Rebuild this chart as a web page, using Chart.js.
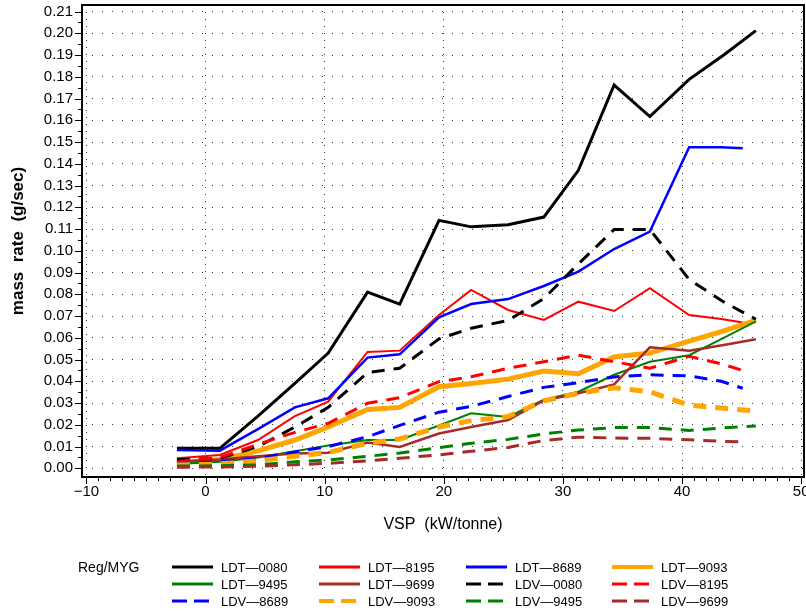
<!DOCTYPE html>
<html>
<head>
<meta charset="utf-8">
<script src="https://cdn.jsdelivr.net/npm/chart.js@4.4.1/dist/chart.umd.min.js"></script>
<style>
  html, body { margin: 0; padding: 0; background: #fff; }
</style>
</head>
<body>
<canvas id="massChart" width="806" height="613"></canvas>
<script>
// VSP bin centres (kW/tonne); some series stop at a lower last bin
const vspLong  = [-2.4, 1.2, 4.4, 7.5, 10.3, 13.6, 16.3, 19.6, 22.3, 25.4, 28.4, 31.3, 34.3, 37.3, 40.6, 43.5, 46.2];
const vspShort = [-2.4, 1.2, 4.4, 7.5, 10.3, 13.6, 16.3, 19.6, 22.3, 25.4, 28.4, 31.3, 34.3, 37.3, 40.6, 43.3, 45.1];

// mass rate (g/sec)
const ldt0080 = [0.0092, 0.0092, 0.024, 0.039, 0.053, 0.081, 0.0755, 0.114, 0.111, 0.112, 0.1155, 0.137, 0.1762, 0.1617, 0.1788, 0.190, 0.2012];
const ldt8195 = [0.0046, 0.0061, 0.013, 0.024, 0.0306, 0.0535, 0.0541, 0.0705, 0.082, 0.0728, 0.0682, 0.0766, 0.0723, 0.0828, 0.0705, 0.0686, 0.067];
const ldt8689 = [0.0084, 0.0081, 0.018, 0.028, 0.0322, 0.0509, 0.0524, 0.0694, 0.0755, 0.0778, 0.0838, 0.0904, 0.1008, 0.1088, 0.1476, 0.1476, 0.1471];
const ldt9093 = [0.0025, 0.004, 0.008, 0.013, 0.019, 0.027, 0.028, 0.0375, 0.039, 0.041, 0.0447, 0.0435, 0.0512, 0.053, 0.0585, 0.0632, 0.068];
const ldt9495 = [0.002, 0.003, 0.005, 0.0078, 0.0105, 0.013, 0.013, 0.0197, 0.0253, 0.0236, 0.0315, 0.0352, 0.043, 0.049, 0.052, 0.060, 0.0675];
const ldt9699 = [0.003, 0.0041, 0.0055, 0.0068, 0.0072, 0.0118, 0.0098, 0.016, 0.019, 0.0222, 0.0312, 0.0345, 0.0386, 0.0556, 0.0541, 0.0567, 0.0593];
const ldv0080 = [0.004, 0.0046, 0.010, 0.019, 0.028, 0.044, 0.046, 0.0595, 0.0644, 0.068, 0.078, 0.094, 0.1098, 0.1098, 0.0868, 0.0765, 0.0685];
const ldv8195 = [0.003, 0.005, 0.011, 0.0165, 0.0207, 0.0299, 0.0325, 0.0398, 0.0421, 0.046, 0.049, 0.052, 0.049, 0.046, 0.0515, 0.048, 0.045];
const ldv8689 = [0.002, 0.003, 0.0045, 0.0075, 0.010, 0.0145, 0.0197, 0.0258, 0.0285, 0.033, 0.0372, 0.0394, 0.042, 0.043, 0.0425, 0.040, 0.0368];
const ldv9093 = [0.0015, 0.002, 0.0035, 0.0055, 0.0073, 0.0115, 0.0135, 0.019, 0.0219, 0.0238, 0.031, 0.0345, 0.037, 0.0352, 0.029, 0.0276, 0.0263];
const ldv9495 = [0.001, 0.0012, 0.0016, 0.003, 0.0038, 0.0055, 0.007, 0.0095, 0.0115, 0.0133, 0.0158, 0.0176, 0.0187, 0.0187, 0.0174, 0.0186, 0.0194];
const ldv9699 = [0.0005, 0.0006, 0.001, 0.0016, 0.0023, 0.0034, 0.0046, 0.0062, 0.0078, 0.0096, 0.0128, 0.0143, 0.0139, 0.0138, 0.0131, 0.0124, 0.0122];

const seriesNames = ['LDT-0080', 'LDT-8195', 'LDT-8689', 'LDT-9093', 'LDT-9495', 'LDT-9699',
                     'LDV-0080', 'LDV-8195', 'LDV-8689', 'LDV-9093', 'LDV-9495', 'LDV-9699'];
const seriesValues = [ldt0080, ldt8195, ldt8689, ldt9093, ldt9495, ldt9699,
                      ldv0080, ldv8195, ldv8689, ldv9093, ldv9495, ldv9699];
const seriesVsp = [vspLong, vspShort, vspShort, vspLong, vspLong, vspLong,
                   vspLong, vspShort, vspShort, vspLong, vspLong, vspShort];

// tick labels
const xMajor = [-10, 0, 10, 20, 30, 40, 50];
const yMajor = [0.00, 0.01, 0.02, 0.03, 0.04, 0.05, 0.06, 0.07, 0.08, 0.09, 0.10,
                0.11, 0.12, 0.13, 0.14, 0.15, 0.16, 0.17, 0.18, 0.19, 0.20, 0.21];

// line styles
const dashed = [13, 9];
const seriesStyle = [
    { color: '#000000', width: 3,   dash: [] },
    { color: '#ff0000', width: 2,   dash: [] },
    { color: '#0000ff', width: 2.5, dash: [] },
    { color: '#ffa500', width: 5,   dash: [] },
    { color: '#008000', width: 2,   dash: [] },
    { color: '#a52a2a', width: 2.5, dash: [] },
    { color: '#000000', width: 3,   dash: dashed },
    { color: '#ff0000', width: 3,   dash: dashed },
    { color: '#0000ff', width: 3,   dash: dashed },
    { color: '#ffa500', width: 5,   dash: dashed },
    { color: '#008000', width: 3,   dash: dashed },
    { color: '#a52a2a', width: 3,   dash: dashed }
];

Chart.defaults.font.family = "'Liberation Sans', Arial, Helvetica, sans-serif";
Chart.defaults.color = '#000';

const datasets = seriesNames.map((name, i) => ({
    label: name,
    data: seriesVsp[i].map((x, j) => ({ x: x, y: seriesValues[i][j] })),
    borderColor: seriesStyle[i].color,
    borderWidth: seriesStyle[i].width,
    borderDash: seriesStyle[i].dash,
    pointRadius: 0,
    tension: 0,
    fill: false,
    order: seriesNames.length - i
}));

// frame, minor/major tick marks and the legend below the axis title
const framePlugin = {
    id: 'frame',
    afterDraw(chart) {
        const { ctx, chartArea: a, scales } = chart;
        const x = scales.x, y = scales.y;
        ctx.save();
        ctx.strokeStyle = '#000';
        ctx.lineWidth = 2;
        ctx.beginPath();
        ctx.moveTo(a.left, a.top);
        ctx.lineTo(a.right, a.top);
        ctx.lineTo(a.right, a.bottom);
        ctx.lineTo(a.left, a.bottom);
        ctx.closePath();
        ctx.stroke();

        ctx.lineWidth = 1;
        ctx.beginPath();
        for (let v = -10; v <= 50; v++) {
            const px = Math.round(x.getPixelForValue(v)) + 0.5;
            const len = v % 10 === 0 ? 7 : 4;
            ctx.moveTo(px, a.bottom);
            ctx.lineTo(px, a.bottom + len);
        }
        for (let k = 0; k <= 42; k++) {
            const py = Math.round(y.getPixelForValue(k * 0.005)) + 0.5;
            const len = k % 2 === 0 ? 7 : 4;
            ctx.moveTo(a.left, py);
            ctx.lineTo(a.left - len, py);
        }
        ctx.stroke();

        // legend
        const cols = [172, 319, 466, 612];
        const rows = [567, 584, 601];
        ctx.font = "14px 'Liberation Sans', Arial, sans-serif";
        ctx.fillStyle = '#000';
        ctx.textBaseline = 'middle';
        ctx.textAlign = 'left';
        ctx.fillText('Reg/MYG', 78, rows[0] + 1);
        ctx.font = "13px 'Liberation Sans', Arial, sans-serif";
        seriesNames.forEach((name, i) => {
            const cx = cols[i % 4];
            const cy = rows[Math.floor(i / 4)];
            const st = seriesStyle[i];
            ctx.strokeStyle = st.color;
            ctx.lineWidth = st.width >= 5 ? 4 : 3;
            ctx.setLineDash(st.dash.length ? [15, 7] : []);
            ctx.beginPath();
            ctx.moveTo(cx, cy);
            ctx.lineTo(cx + (st.dash.length ? 37 : 41), cy);
            ctx.stroke();
            ctx.setLineDash([]);
            ctx.fillText(name.replace('-', '\u2014'), cx + 49, cy + 1);
        });
        ctx.restore();
    }
};

new Chart(document.getElementById('massChart'), {
    type: 'line',
    data: { datasets: datasets },
    options: {
        responsive: false,
        animation: false,
        layout: { padding: { left: 0, top: 5, right: 2, bottom: 76 } },
        plugins: {
            legend: { display: false },
            tooltip: { enabled: false }
        },
        scales: {
            x: {
                type: 'linear',
                min: -10.37,
                max: 50.24,
                afterBuildTicks: (scale) => { scale.ticks = xMajor.map(v => ({ value: v })); },
                afterFit: (scale) => {
                    scale.height = 60;
                    scale.paddingLeft = 0;
                    scale.paddingRight = 0;
                },
                ticks: {
                    padding: 6,
                    font: { size: 15 },
                    callback: (v) => v < 0 ? '\u2212' + Math.abs(v) : String(v)
                },
                grid: { color: '#333', lineWidth: 1, drawTicks: false },
                border: { display: false, dash: [1, 6] },
                title: {
                    display: true,
                    text: 'VSP  (kW/tonne)',
                    font: { size: 16 },
                    padding: { top: 0, bottom: 3 }
                }
            },
            y: {
                type: 'linear',
                min: -0.004,
                max: 0.213,
                afterBuildTicks: (scale) => { scale.ticks = yMajor.map(v => ({ value: v })); },
                afterFit: (scale) => {
                    scale.width = 82;
                    scale.paddingTop = 0;
                    scale.paddingBottom = 0;
                },
                ticks: {
                    padding: 9,
                    font: { size: 15 },
                    callback: (v) => v.toFixed(2)
                },
                grid: { color: '#333', lineWidth: 1, drawTicks: false },
                border: { display: false, dash: [1, 9] },
                title: {
                    display: true,
                    text: 'mass  rate  (g/sec)',
                    font: { size: 17, weight: 'bold' },
                    padding: { top: 8, bottom: 0 }
                }
            }
        }
    },
    plugins: [framePlugin]
});
</script>
</body>
</html>
